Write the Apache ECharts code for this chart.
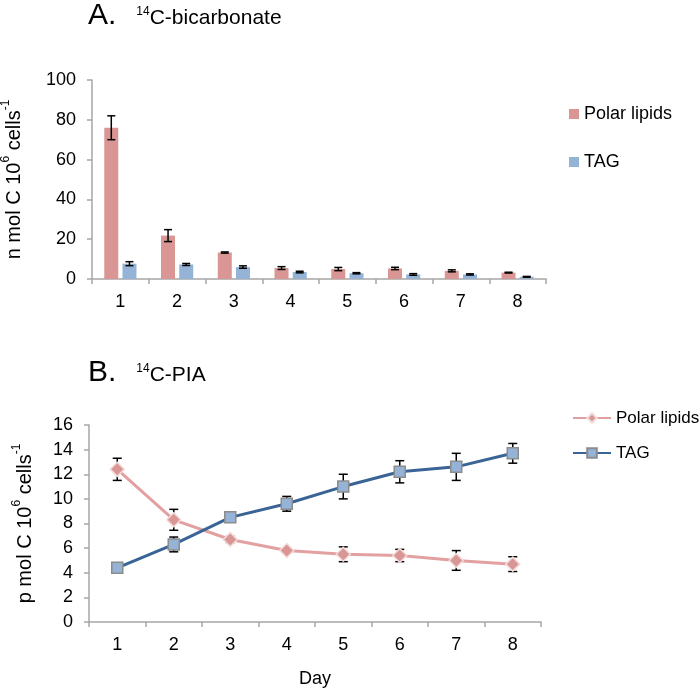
<!DOCTYPE html>
<html>
<head>
<meta charset="utf-8">
<script src="https://cdn.jsdelivr.net/npm/echarts@6/dist/echarts.min.js"></script>
<style>
  html, body { margin: 0; padding: 0; background: #fff; }
  #chart { width: 700px; height: 691px; }
</style>
</head>
<body>
<div id="chart"></div>
<script>
// day categories
const days = ['1', '2', '3', '4', '5', '6', '7', '8']

// A. 14C-bicarbonate (n mol C 10^6 cells^-1)
const bicarbPolar = [76, 21.8, 13.3, 5.5, 5, 5.3, 4.1, 3.2]
const bicarbPolarErr = [6, 3, 0.3, 0.7, 0.8, 0.6, 0.5, 0.2]
const bicarbTag = [7.7, 7.3, 6, 3.5, 2.9, 2.3, 2.3, 1.1]
const bicarbTagErr = [1, 0.5, 0.6, 0.4, 0.3, 0.4, 0.3, 0.2]

// B. 14C-PIA (p mol C 10^6 cells^-1)
const piaPolar = [12.4, 8.3, 6.7, 5.8, 5.5, 5.4, 5.0, 4.7]
const piaPolarErr = [0.9, 0.85, 0.25, 0.15, 0.6, 0.5, 0.8, 0.6]
const piaTag = [4.4, 6.3, 8.5, 9.6, 11.0, 12.2, 12.6, 13.7]
const piaTagErr = [0.1, 0.6, 0.15, 0.6, 1.0, 0.9, 1.1, 0.8]

const FONT = 'Liberation Sans, Arial, sans-serif'
const AXIS_GREY = '#a6a6a6'
const polarColor = '#d99694'
const tagColor = '#95b3d7'

// [index, low, high] rows for the error bar series
function errRows(values, errs) {
  return values.map((v, i) => [i, v - errs[i], v + errs[i]])
}

// shift is a fraction of the category band width (bars sit left / right of centre)
function errorBar(shift, capHalf) {
  return function (params, api) {
    const band = api.size([1, 0])[0]
    const x = api.coord([api.value(0), 0])[0] + band * shift
    const lo = api.coord([api.value(0), api.value(1)])[1]
    const hi = api.coord([api.value(0), api.value(2)])[1]
    const style = { stroke: '#000', lineWidth: 1.5 }
    return {
      type: 'group',
      children: [
        { type: 'line', shape: { x1: x, y1: lo, x2: x, y2: hi }, style },
        { type: 'line', shape: { x1: x - capHalf, y1: hi, x2: x + capHalf, y2: hi }, style },
        { type: 'line', shape: { x1: x - capHalf, y1: lo, x2: x + capHalf, y2: lo }, style }
      ]
    }
  }
}

const supRich = {
  n: { fontSize: 20, fontFamily: FONT, color: '#000', verticalAlign: 'bottom', lineHeight: 24 },
  sup: { fontSize: 12, fontFamily: FONT, color: '#000', verticalAlign: 'top', lineHeight: 12 }
}

function valueAxis(gridIndex, max, interval, name, nameGap) {
  return {
    type: 'value',
    gridIndex,
    min: 0,
    max,
    interval,
    name,
    nameLocation: 'middle',
    nameGap,
    nameRotate: 90,
    nameTextStyle: { rich: supRich },
    axisLine: { show: true, lineStyle: { color: AXIS_GREY, width: 1.5 } },
    axisTick: { show: true, length: 5, lineStyle: { color: AXIS_GREY, width: 1.5 } },
    axisLabel: { fontSize: 18, fontFamily: FONT, color: '#000', margin: 16 },
    splitLine: { show: false }
  }
}

function categoryAxis(gridIndex) {
  return {
    type: 'category',
    gridIndex,
    data: days,
    boundaryGap: true,
    axisLine: { lineStyle: { color: AXIS_GREY, width: 1.5 } },
    axisTick: { show: true, length: 5, alignWithLabel: false, lineStyle: { color: AXIS_GREY, width: 1.5 } },
    axisLabel: { fontSize: 18, fontFamily: FONT, color: '#000', margin: 14 }
  }
}

const chart = echarts.init(document.getElementById('chart'))

const titleRich = {
  a: { fontSize: 30, fontFamily: FONT, fontWeight: 'normal', color: '#000', verticalAlign: 'bottom', lineHeight: 32 },
  s: { fontSize: 12, fontFamily: FONT, fontWeight: 'normal', color: '#000', verticalAlign: 'top', lineHeight: 12, padding: [7, 0, 0, 20] },
  m: { fontSize: 21, fontFamily: FONT, fontWeight: 'normal', color: '#000', verticalAlign: 'bottom', lineHeight: 24, padding: [0, 0, 2, 0] }
}

chart.setOption({
  animation: false,
  title: [
    { text: '{a|A.}{s|14}{m|C-bicarbonate}', left: 88, top: -1, padding: 0, textStyle: { fontWeight: 'normal', rich: titleRich } },
    { text: '{a|B.}{s|14}{m|C-PIA}', left: 88, top: 356, padding: 0, textStyle: { fontWeight: 'normal', rich: titleRich } }
  ],
  legend: [
    {
      data: ['Polar lipids', 'TAG'],
      orient: 'vertical',
      left: 569,
      top: 104,
      icon: 'rect',
      itemWidth: 10,
      itemHeight: 10,
      itemGap: 28,
      padding: 0,
      textStyle: { fontSize: 18, fontFamily: FONT, color: '#000', lineHeight: 20 }
    },
    {
      data: ['Polar lipids ', 'TAG '],
      orient: 'vertical',
      left: 572,
      top: 408,
      itemWidth: 38,
      itemHeight: 12,
      itemGap: 15,
      padding: 0,
      textStyle: { fontSize: 17, fontFamily: FONT, color: '#000', lineHeight: 20 }
    }
  ],
  grid: [
    { left: 92, right: 154, top: 80, height: 199, outerBoundsMode: 'none' },
    { left: 89, right: 159, top: 425, height: 197, outerBoundsMode: 'none' }
  ],
  xAxis: [
    categoryAxis(0),
    Object.assign(categoryAxis(1), {
      name: 'Day',
      nameLocation: 'middle',
      nameGap: 48,
      nameTextStyle: { fontSize: 18, fontFamily: FONT, color: '#000' }
    })
  ],
  yAxis: [
    valueAxis(0, 100, 20, '{n|n mol C 10}{sup|6}{n| cells}{sup|-1}', 68),
    valueAxis(1, 16, 2, '{n|p mol C 10}{sup|6}{n| cells}{sup|-1}', 54)
  ],
  series: [
    {
      name: 'Polar lipids',
      type: 'bar',
      xAxisIndex: 0,
      yAxisIndex: 0,
      barWidth: 14,
      barGap: '30%',
      itemStyle: { color: polarColor },
      data: bicarbPolar
    },
    {
      name: 'TAG',
      type: 'bar',
      xAxisIndex: 0,
      yAxisIndex: 0,
      barWidth: 14,
      barGap: '30%',
      itemStyle: { color: tagColor },
      data: bicarbTag
    },
    {
      type: 'custom',
      xAxisIndex: 0,
      yAxisIndex: 0,
      z: 5,
      renderItem: errorBar(-0.16, 4),
      data: errRows(bicarbPolar, bicarbPolarErr)
    },
    {
      type: 'custom',
      xAxisIndex: 0,
      yAxisIndex: 0,
      z: 5,
      renderItem: errorBar(0.16, 4),
      data: errRows(bicarbTag, bicarbTagErr)
    },
    {
      type: 'custom',
      xAxisIndex: 1,
      yAxisIndex: 1,
      z: 1,
      renderItem: errorBar(0, 4.5),
      data: errRows(piaPolar, piaPolarErr)
    },
    {
      type: 'custom',
      xAxisIndex: 1,
      yAxisIndex: 1,
      z: 1,
      renderItem: errorBar(0, 4.5),
      data: errRows(piaTag, piaTagErr)
    },
    {
      name: 'Polar lipids ',
      type: 'line',
      xAxisIndex: 1,
      yAxisIndex: 1,
      z: 3,
      symbol: 'diamond',
      symbolSize: 14,
      lineStyle: { color: '#e3a0a0', width: 3 },
      itemStyle: { color: polarColor, borderColor: '#f2dcdb', borderWidth: 1.5 },
      data: piaPolar
    },
    {
      name: 'TAG ',
      type: 'line',
      xAxisIndex: 1,
      yAxisIndex: 1,
      z: 3,
      symbol: 'rect',
      symbolSize: 11,
      lineStyle: { color: '#3a6496', width: 3 },
      itemStyle: { color: tagColor, borderColor: '#8c8c8c', borderWidth: 1.5 },
      data: piaTag
    }
  ]
})
</script>
</body>
</html>
